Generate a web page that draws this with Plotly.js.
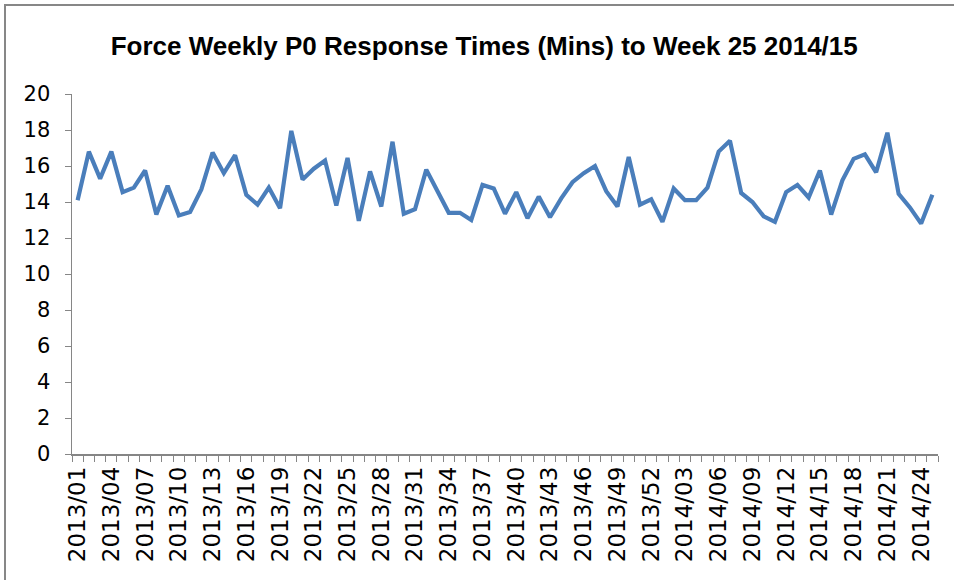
<!DOCTYPE html>
<html>
<head>
<meta charset="utf-8">
<script src="https://cdn.plot.ly/plotly-3.0.1.min.js"></script>
<style>
  html, body { margin: 0; padding: 0; background: #ffffff; }
  #wrap { position: relative; width: 954px; height: 580px; overflow: hidden; }
  #chart { position: absolute; left: 0; top: 0; width: 954px; height: 580px; }
  #frame { position: absolute; left: 4px; top: 4px; width: 970px; height: 600px;
           border-left: 2px solid #878787; border-top: 2px solid #878787; pointer-events: none; }
</style>
</head>
<body>
<div id="wrap">
  <div id="chart"></div>
  <div id="frame"></div>
</div>
<script>
const weeks = [
  "2013/01","2013/02","2013/03","2013/04","2013/05","2013/06","2013/07","2013/08","2013/09","2013/10",
  "2013/11","2013/12","2013/13","2013/14","2013/15","2013/16","2013/17","2013/18","2013/19","2013/20",
  "2013/21","2013/22","2013/23","2013/24","2013/25","2013/26","2013/27","2013/28","2013/29","2013/30",
  "2013/31","2013/32","2013/33","2013/34","2013/35","2013/36","2013/37","2013/38","2013/39","2013/40",
  "2013/41","2013/42","2013/43","2013/44","2013/45","2013/46","2013/47","2013/48","2013/49","2013/50",
  "2013/51","2013/52","2014/01","2014/02","2014/03","2014/04","2014/05","2014/06","2014/07","2014/08",
  "2014/09","2014/10","2014/11","2014/12","2014/13","2014/14","2014/15","2014/16","2014/17","2014/18",
  "2014/19","2014/20","2014/21","2014/22","2014/23","2014/24","2014/25"
];

const responseMins = [
  14.1, 16.8, 15.3, 16.8, 14.55, 14.8, 15.75, 13.3, 14.9, 13.25,
  13.45, 14.7, 16.75, 15.6, 16.6, 14.4, 13.85, 14.8, 13.65, 17.95,
  15.25, 15.85, 16.3, 13.8, 16.45, 12.95, 15.7, 13.75, 17.35, 13.35,
  13.6, 15.8, 14.6, 13.4, 13.4, 13.0, 14.95, 14.75, 13.35, 14.55,
  13.1, 14.3, 13.15, 14.2, 15.1, 15.6, 16.0, 14.6, 13.75, 16.5,
  13.85, 14.15, 12.9, 14.75, 14.1, 14.1, 14.8, 16.8, 17.4, 14.5,
  14.0, 13.2, 12.9, 14.55, 14.95, 14.25, 15.75, 13.3, 15.2, 16.4,
  16.65, 15.65, 17.85, 14.45, 13.7, 12.8, 14.4
];

const yTicks = [0, 2, 4, 6, 8, 10, 12, 14, 16, 18, 20];
const labelEvery = 3;
const xTickText = weeks.map((w, i) => (i % labelEvery === 0 ? w : ""));

const trace = {
  type: "scatter",
  mode: "lines",
  x: weeks,
  y: responseMins,
  line: { color: "#4a7ebb", width: 4.2 },
  hoverinfo: "x+y"
};

const axisGrey = "#868686";

const layout = {
  width: 954,
  height: 580,
  margin: { l: 72, r: 16, t: 94, b: 126 },
  paper_bgcolor: "#ffffff",
  plot_bgcolor: "#ffffff",
  showlegend: false,
  title: {
    text: "Force Weekly P0 Response Times (Mins) to Week 25 2014/15",
    font: { family: "Liberation Sans, Arial, sans-serif", size: 26, color: "#000000", weight: "bold" },
    xref: "paper",
    x: 0.476,
    xanchor: "center",
    yref: "container",
    y: 0.921,
    yanchor: "middle"
  },
  xaxis: {
    type: "category",
    range: [-0.5, weeks.length - 0.5],
    tickmode: "array",
    tickvals: weeks,
    ticktext: xTickText,
    tickson: "boundaries",
    ticks: "outside",
    ticklen: 6,
    tickwidth: 1,
    tickcolor: axisGrey,
    tickangle: -90,
    ticklabelstandoff: 2,
    tickfont: { family: "DejaVu Sans, sans-serif", size: 23, color: "#000000" },
    showline: true,
    linecolor: axisGrey,
    linewidth: 1.5,
    showgrid: false,
    zeroline: false,
    fixedrange: true
  },
  yaxis: {
    range: [0, 20],
    tickmode: "array",
    tickvals: yTicks,
    ticktext: yTicks.map(String),
    ticks: "outside",
    ticklen: 6,
    tickwidth: 1,
    tickcolor: axisGrey,
    ticklabelstandoff: 10,
    tickfont: { family: "DejaVu Sans, sans-serif", size: 21, color: "#000000" },
    showline: true,
    linecolor: axisGrey,
    linewidth: 1.5,
    showgrid: false,
    zeroline: false,
    fixedrange: true
  }
};

Plotly.newPlot("chart", [trace], layout, { displayModeBar: false, staticPlot: true });
</script>
</body>
</html>
